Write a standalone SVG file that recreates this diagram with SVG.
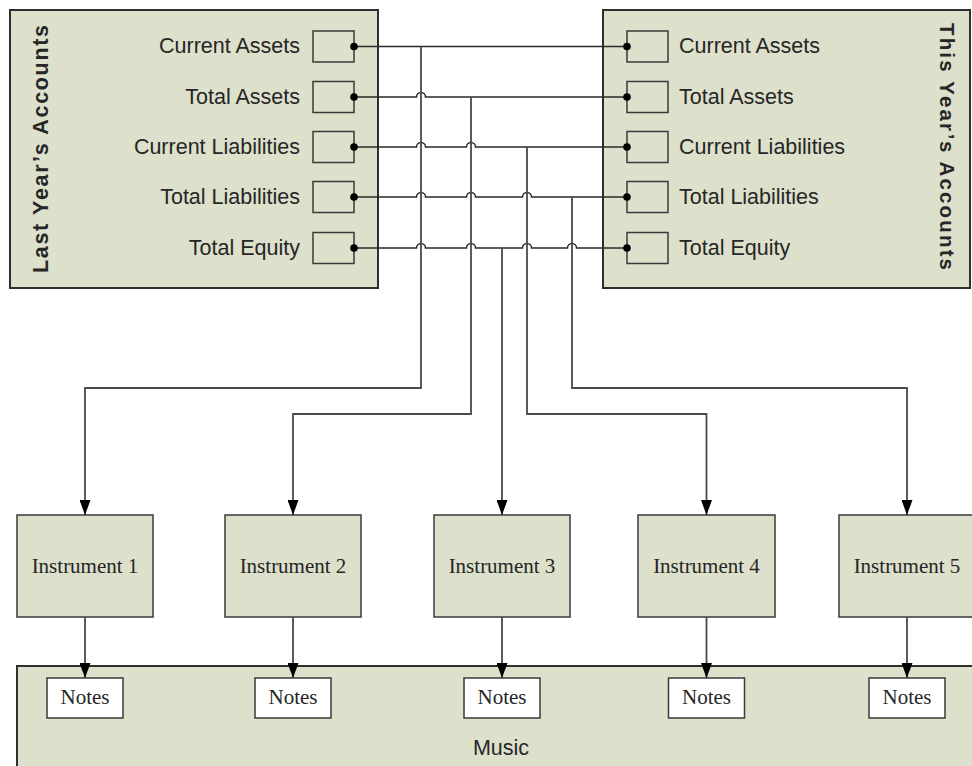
<svg xmlns="http://www.w3.org/2000/svg" width="972" height="766" viewBox="0 0 972 766">
  <style>
    .panel { fill: #dde0cb; stroke: #2e2e2e; stroke-width: 2; }
    .port { fill: #dde0cb; stroke: #3a3a3a; stroke-width: 1.5; }
    .box { fill: #dde0cb; stroke: #3a3a3a; stroke-width: 1.5; }
    .note { fill: #ffffff; stroke: #3a3a3a; stroke-width: 1.5; }
    .lbl { font-family: "Liberation Sans", Arial, sans-serif; font-size: 21.5px; fill: #262626; }
    .title { font-family: "Liberation Sans", Arial, sans-serif; font-weight: bold; fill: #262626; }
    .serif { font-family: "Liberation Serif", "Times New Roman", serif; font-size: 21px; fill: #262626; text-anchor: middle; }
    .wire { fill: none; stroke: #2a2a2a; stroke-width: 1.5; }
    .route { fill: none; stroke: #4a4a4a; stroke-width: 1.8; }
    .dot { fill: #000; }
  </style>
  <defs>
    <marker id="arrow" viewBox="0 0 15 11" refX="15" refY="5.5" markerWidth="15" markerHeight="11" markerUnits="userSpaceOnUse" orient="auto">
      <path d="M0,0 L15,5.5 L0,11 Z" fill="#000"/>
    </marker>
  </defs>

  <rect width="972" height="766" fill="#ffffff"/>

  <!-- Last year's accounts -->
  <g id="last-year">
    <rect class="panel" x="10" y="10" width="368" height="278"/>
    <text class="title" font-size="21.5" transform="translate(48,273) rotate(-90)" textLength="248" lengthAdjust="spacing">Last Year’s Accounts</text>
    <g class="lbl" text-anchor="end">
      <text x="300" y="53">Current Assets</text>
      <text x="300" y="104">Total Assets</text>
      <text x="300" y="154">Current Liabilities</text>
      <text x="300" y="204">Total Liabilities</text>
      <text x="300" y="255">Total Equity</text>
    </g>
    <rect class="port" x="313" y="31" width="41" height="31"/>
    <rect class="port" x="313" y="81.5" width="41" height="31"/>
    <rect class="port" x="313" y="131.5" width="41" height="31"/>
    <rect class="port" x="313" y="181.5" width="41" height="31"/>
    <rect class="port" x="313" y="232.5" width="41" height="31"/>
  </g>

  <!-- This year's accounts -->
  <g id="this-year">
    <rect class="panel" x="603" y="10" width="367" height="278"/>
    <text class="title" font-size="20.5" transform="translate(940,23) rotate(90)" textLength="247" lengthAdjust="spacing">This Year’s Accounts</text>
    <g class="lbl">
      <text x="679" y="53">Current Assets</text>
      <text x="679" y="104">Total Assets</text>
      <text x="679" y="154">Current Liabilities</text>
      <text x="679" y="204">Total Liabilities</text>
      <text x="679" y="255">Total Equity</text>
    </g>
    <rect class="port" x="627" y="31" width="41" height="31"/>
    <rect class="port" x="627" y="81.5" width="41" height="31"/>
    <rect class="port" x="627" y="131.5" width="41" height="31"/>
    <rect class="port" x="627" y="181.5" width="41" height="31"/>
    <rect class="port" x="627" y="232.5" width="41" height="31"/>
  </g>

  <!-- Instruments -->
  <g id="instrument-1">
    <rect class="box" x="17" y="515" width="136" height="102"/>
    <text class="serif" x="85" y="573">Instrument 1</text>
  </g>
  <g id="instrument-2">
    <rect class="box" x="225" y="515" width="136" height="102"/>
    <text class="serif" x="293" y="573">Instrument 2</text>
  </g>
  <g id="instrument-3">
    <rect class="box" x="434" y="515" width="136" height="102"/>
    <text class="serif" x="502" y="573">Instrument 3</text>
  </g>
  <g id="instrument-4">
    <rect class="box" x="638" y="515" width="137" height="102"/>
    <text class="serif" x="706.5" y="573">Instrument 4</text>
  </g>
  <g id="instrument-5">
    <rect class="box" x="839" y="515" width="136" height="102"/>
    <text class="serif" x="907" y="573">Instrument 5</text>
  </g>

  <!-- Music container with notes -->
  <g id="music">
    <rect class="panel" x="17" y="666" width="965" height="120"/>
    <text class="lbl" x="501" y="755" text-anchor="middle">Music</text>
  </g>
  <g id="notes-1">
    <rect class="note" x="47" y="678" width="76" height="40"/>
    <text class="serif" x="85" y="704">Notes</text>
  </g>
  <g id="notes-2">
    <rect class="note" x="255" y="678" width="76" height="40"/>
    <text class="serif" x="293" y="704">Notes</text>
  </g>
  <g id="notes-3">
    <rect class="note" x="464" y="678" width="76" height="40"/>
    <text class="serif" x="502" y="704">Notes</text>
  </g>
  <g id="notes-4">
    <rect class="note" x="668.5" y="678" width="76" height="40"/>
    <text class="serif" x="706.5" y="704">Notes</text>
  </g>
  <g id="notes-5">
    <rect class="note" x="869" y="678" width="76" height="40"/>
    <text class="serif" x="907" y="704">Notes</text>
  </g>

  <!-- Connectors -->
  <g id="connectors">
    <!-- account rows, hopping over the vertical taps -->
    <path class="wire" d="M354,46.5 H627"/>
    <path class="wire" d="M354,97 H416.5 A4.5,4.5 0 0 1 425.5,97 H627"/>
    <path class="wire" d="M354,147 H416.5 A4.5,4.5 0 0 1 425.5,147 H466.5 A4.5,4.5 0 0 1 475.5,147 H627"/>
    <path class="wire" d="M354,197 H416.5 A4.5,4.5 0 0 1 425.5,197 H466.5 A4.5,4.5 0 0 1 475.5,197 H522.5 A4.5,4.5 0 0 1 531.5,197 H627"/>
    <path class="wire" d="M354,248 H416.5 A4.5,4.5 0 0 1 425.5,248 H466.5 A4.5,4.5 0 0 1 475.5,248 H522.5 A4.5,4.5 0 0 1 531.5,248 H567.5 A4.5,4.5 0 0 1 576.5,248 H627"/>

    <!-- taps down to the instruments -->
    <path class="route" d="M421,46.5 V388 H85 V515" marker-end="url(#arrow)"/>
    <path class="route" d="M471,97 V414 H293 V515" marker-end="url(#arrow)"/>
    <path class="route" d="M502,248 V515" marker-end="url(#arrow)"/>
    <path class="route" d="M527,147 V414 H706.5 V515" marker-end="url(#arrow)"/>
    <path class="route" d="M572,197 V388 H907 V515" marker-end="url(#arrow)"/>

    <!-- instruments to notes -->
    <path class="route" d="M85,617 V678" marker-end="url(#arrow)"/>
    <path class="route" d="M293,617 V678" marker-end="url(#arrow)"/>
    <path class="route" d="M502,617 V678" marker-end="url(#arrow)"/>
    <path class="route" d="M706.5,617 V678" marker-end="url(#arrow)"/>
    <path class="route" d="M907,617 V678" marker-end="url(#arrow)"/>

    <!-- port dots -->
    <circle class="dot" cx="354" cy="46.5" r="3.8"/>
    <circle class="dot" cx="354" cy="97" r="3.8"/>
    <circle class="dot" cx="354" cy="147" r="3.8"/>
    <circle class="dot" cx="354" cy="197" r="3.8"/>
    <circle class="dot" cx="354" cy="248" r="3.8"/>
    <circle class="dot" cx="627" cy="46.5" r="3.8"/>
    <circle class="dot" cx="627" cy="97" r="3.8"/>
    <circle class="dot" cx="627" cy="147" r="3.8"/>
    <circle class="dot" cx="627" cy="197" r="3.8"/>
    <circle class="dot" cx="627" cy="248" r="3.8"/>
  </g>
</svg>
